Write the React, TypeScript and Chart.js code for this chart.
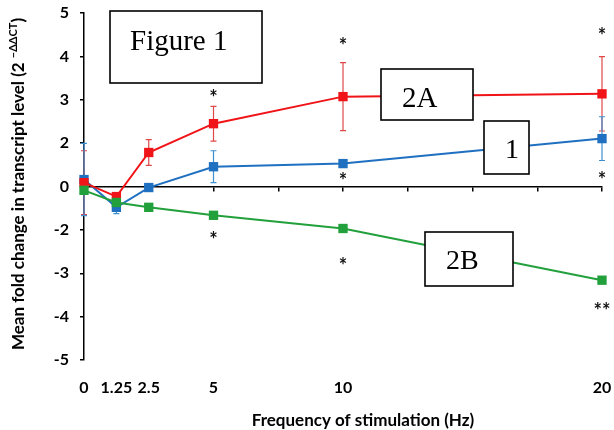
import React, { useEffect, useRef } from 'react';
import { Chart, registerables } from 'chart.js';

Chart.register(...registerables);

// ---- data ----
const frequencies = [0, 1.25, 2.5, 5, 10, 20];
const xTickValues = [0, 1.25, 2.5, 5, 10, 20];
const yTickLabels = ['-5', '-4', '-3', '-2', '0', '2', '3', '4', '5'];

const series2A = [0.11, -0.29, 0.98, 1.81, 2.59, 2.67];
const err2A = [0.92, 0, 0.37, 0.5, 0.98, 1.07];
const series1 = [0.2, -0.6, -0.03, 0.57, 0.66, 1.38];
const err1 = [1.04, 0.18, 0, 0.46, 0, 0.63];
const series2B = [-0.11, -0.46, -0.6, -0.83, -1.21, -2.7];
const err2B = [0, 0, 0, 0, 0, 0];

const sigX = [5, 10, 20, 10, 20, 5, 10, 20];
const sigY = [2.64, 4.14, 4.43, 0.26, 0.29, -1.44, -2.18, -3.5];
const sigText = ['*', '*', '*', '*', '*', '*', '*', '**'];

const boxLabels = ['Figure 1', '2A', '1', '2B'];

// ---- styles ----
const RED = '#f01418';
const BLUE = '#1f70c0';
const GREEN = '#22a03c';
const RED_ERR = '#e04848';
const BLUE_ERR = '#3d8fd0';
const SANS = 'Lato, "Open Sans", sans-serif';
const SERIF = '"Liberation Serif", "Times New Roman", serif';

const boxGeom = [
  { x: 110, y: 11, w: 152, h: 72, tx: 130, ty: 50, size: 29 },
  { x: 381, y: 69, w: 92, h: 51, tx: 402, ty: 107, size: 29 },
  { x: 484, y: 121, w: 45, h: 53, tx: 505, ty: 158, size: 28 },
  { x: 425, y: 232, w: 88, h: 54, tx: 446, ty: 269, size: 28 },
];

const overlayPlugin = {
  id: 'overlay',
  beforeDatasetsDraw(chart: any) {
    const ctx = chart.ctx;
    const xs = chart.scales.x;
    const ys = chart.scales.y;
    const sets = [
      { v: series2B, e: err2B, c: GREEN },
      { v: series2A, e: err2A, c: RED_ERR },
      { v: series1, e: err1, c: BLUE_ERR },
    ];
    ctx.save();
    ctx.lineWidth = 1.2;
    for (const s of sets) {
      ctx.strokeStyle = s.c;
      s.v.forEach((val, i) => {
        const e = s.e[i];
        if (!e) return;
        const px = xs.getPixelForValue(frequencies[i]);
        const top = ys.getPixelForValue(val + e);
        const bot = ys.getPixelForValue(val - e);
        ctx.beginPath();
        ctx.moveTo(px, top);
        ctx.lineTo(px, bot);
        ctx.moveTo(px - 3, top);
        ctx.lineTo(px + 3, top);
        ctx.moveTo(px - 3, bot);
        ctx.lineTo(px + 3, bot);
        ctx.stroke();
      });
    }
    ctx.restore();
  },
  afterDraw(chart: any) {
    const ctx = chart.ctx;
    const xs = chart.scales.x;
    const ys = chart.scales.y;
    ctx.save();
    // significance asterisks
    ctx.fillStyle = '#111';
    ctx.font = `bold 20px ${SANS}`;
    ctx.textAlign = 'center';
    ctx.textBaseline = 'middle';
    sigText.forEach((t, i) => {
      ctx.fillText(t, xs.getPixelForValue(sigX[i]), ys.getPixelForValue(sigY[i]) + 4);
    });
    // label boxes
    boxLabels.forEach((t, i) => {
      const b = boxGeom[i];
      ctx.fillStyle = '#fff';
      ctx.fillRect(b.x, b.y, b.w, b.h);
      ctx.strokeStyle = '#000';
      ctx.lineWidth = 1.6;
      ctx.strokeRect(b.x, b.y, b.w, b.h);
      ctx.fillStyle = '#000';
      ctx.font = `${b.size}px ${SERIF}`;
      ctx.textAlign = 'left';
      ctx.textBaseline = 'alphabetic';
      ctx.fillText(t, b.tx, b.ty);
    });
    // x title
    ctx.fillStyle = '#000';
    ctx.font = `bold 17px ${SANS}`;
    ctx.textAlign = 'center';
    ctx.textBaseline = 'middle';
    ctx.fillText('Frequency of stimulation (Hz)', 363, 421);
    // y title with superscript
    const main = 'Mean fold change in transcript level (2 ';
    const sup = '\u2212\u0394\u0394CT';
    const close = ')';
    const mainFont = `bold 17px ${SANS}`;
    const supFont = `bold 11px ${SANS}`;
    ctx.font = mainFont;
    const wMain = ctx.measureText(main).width;
    const wClose = ctx.measureText(close).width;
    ctx.font = supFont;
    const wSup = ctx.measureText(sup).width;
    const total = wMain + wSup + wClose;
    ctx.translate(24, 184);
    ctx.rotate(-Math.PI / 2);
    ctx.textAlign = 'left';
    ctx.textBaseline = 'alphabetic';
    let cx = -total / 2;
    ctx.font = mainFont;
    ctx.fillText(main, cx, 0);
    cx += wMain;
    ctx.font = supFont;
    ctx.fillText(sup, cx, -7);
    cx += wSup;
    ctx.font = mainFont;
    ctx.fillText(close, cx, 0);
    ctx.restore();
  },
};

export default function App() {
  const ref = useRef<HTMLCanvasElement | null>(null);

  useEffect(() => {
    if (!ref.current) return;
    const mk = (vals: number[], color: string, label: string) => ({
      label,
      data: frequencies.map((f, i) => ({ x: f, y: vals[i] })),
      borderColor: color,
      backgroundColor: color,
      borderWidth: 2,
      pointStyle: 'rect',
      pointRadius: 6.6,
      pointBorderWidth: 0,
      pointBackgroundColor: color,
      tension: 0,
      clip: false,
    });
    const noPad = (scale: any) => {
      scale.paddingLeft = 0;
      scale.paddingRight = 0;
      scale.paddingTop = 0;
      scale.paddingBottom = 0;
    };
    const chart = new Chart(ref.current, {
      type: 'line',
      data: {
        datasets: [mk(series2B, GREEN, '2B'), mk(series2A, RED, '2A'), mk(series1, BLUE, '1')] as any,
      },
      options: {
        animation: false,
        responsive: false,
        layout: { padding: { top: 13, right: 12, left: 0, bottom: 0 } },
        plugins: { legend: { display: false }, tooltip: { enabled: false } },
        scales: {
          x: {
            type: 'linear',
            position: { y: 0 } as any,
            min: 0,
            max: 20,
            afterFit: noPad,
            ticks: { stepSize: 2.5, display: false },
            grid: { drawOnChartArea: false, drawTicks: true, tickLength: 4, color: '#000', lineWidth: 1.5 },
            border: { display: true, color: '#000', width: 1.5 },
          },
          xl: {
            type: 'linear',
            position: 'bottom',
            min: 0,
            max: 20,
            afterBuildTicks: (scale: any) => {
              scale.ticks = xTickValues.map((v) => ({ value: v }));
            },
            afterFit: (scale: any) => {
              scale.height = 70;
              noPad(scale);
            },
            ticks: {
              autoSkip: false,
              maxRotation: 0,
              padding: 18,
              color: '#000',
              font: { family: SANS, size: 16, weight: 'bold' },
              callback: (v: any) => String(v),
            },
            grid: { display: false, drawTicks: false },
            border: { display: false },
          },
          y: {
            type: 'linear',
            min: -5,
            max: 5,
            afterFit: (scale: any) => {
              scale.width = 84;
              noPad(scale);
            },
            ticks: {
              stepSize: 1.25,
              padding: 11,
              color: '#000',
              font: { family: SANS, size: 16, weight: 'bold' },
              callback: (_v: any, i: number) => yTickLabels[i],
            },
            grid: { drawOnChartArea: false, drawTicks: true, tickLength: 4, color: '#000', lineWidth: 1.5 },
            border: { display: true, color: '#000', width: 1.5 },
          },
        },
      } as any,
      plugins: [overlayPlugin],
    });
    return () => chart.destroy();
  }, []);

  return (
    <div style={{ position: 'fixed', left: 0, top: 0, width: 614, height: 430, background: '#fff' }}>
      <canvas ref={ref} width={614} height={430} style={{ display: 'block' }} />
    </div>
  );
}
